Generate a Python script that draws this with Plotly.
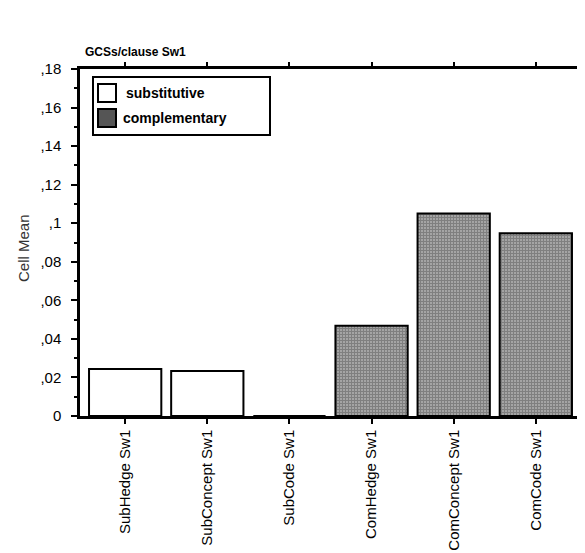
import plotly.graph_objects as go

categories = ["SubHedge Sw1", "SubConcept Sw1", "SubCode Sw1",
              "ComHedge Sw1", "ComConcept Sw1", "ComCode Sw1"]
sub_cats = categories[:3]
com_cats = categories[3:]
sub_values = [0.0244, 0.0233, 0.0]
com_values = [0.0468, 0.1051, 0.0948]
y_tickvals = [0, 0.02, 0.04, 0.06, 0.08, 0.10, 0.12, 0.14, 0.16, 0.18]
y_ticktext = ["0", ",02", ",04", ",06", ",08", ",1", ",12", ",14", ",16", ",18"]
legend_labels = ["substitutive", "complementary"]

FONT = "Liberation Sans, Arial, sans-serif"

# page body has an 8px margin; compensate so the plot sits where the reference has it
OFF = 8
PL, PR, PT, PB = 80, 581, 69, 416          # plot area in screen pixels
W, H = 585, 553
PW, PH = PR - PL, PB - PT


def px(x):  # screen x -> paper
    return (x - PL) / PW


def py(y):  # screen y -> paper
    return (PB - y) / PH


fig = go.Figure()
fig.add_trace(go.Bar(
    x=sub_cats, y=sub_values, name=legend_labels[0], width=0.88,
    marker=dict(color="white", line=dict(color="black", width=2)),
))
fig.add_trace(go.Bar(
    x=com_cats, y=com_values, name=legend_labels[1], width=0.88,
    marker=dict(color="white", line=dict(color="black", width=2),
                pattern=dict(shape="+", size=3, solidity=0.85,
                             fgcolor="black", bgcolor="white", fillmode="overlay")),
))
# invisible trace to carry the mirrored top/right axes
fig.add_trace(go.Scatter(x=categories, y=[0]*6, xaxis="x2", yaxis="y2",
                         mode="markers", marker=dict(opacity=0),
                         showlegend=False, hoverinfo="skip"))

# manual legend (box, swatches, labels)
shapes = [
    dict(type="rect", xref="paper", yref="paper", x0=px(93), x1=px(270),
         y0=py(135), y1=py(77), line=dict(color="black", width=2), fillcolor="white",
         layer="above"),
    dict(type="rect", xref="paper", yref="paper", x0=px(98), x1=px(116),
         y0=py(102), y1=py(84), line=dict(color="black", width=2), fillcolor="white",
         layer="above"),
    dict(type="rect", xref="paper", yref="paper", x0=px(98), x1=px(116),
         y0=py(127), y1=py(109), line=dict(color="black", width=2), fillcolor="#555555",
         layer="above"),
]
annotations = [
    dict(xref="paper", yref="paper", x=px(124), y=py(93), xanchor="left",
         yanchor="middle", showarrow=False, text="<b>%s</b>" % legend_labels[0],
         font=dict(size=14, family=FONT, color="black")),
    dict(xref="paper", yref="paper", x=px(121), y=py(118), xanchor="left",
         yanchor="middle", showarrow=False, text="<b>%s</b>" % legend_labels[1],
         font=dict(size=14, family=FONT, color="black")),
    dict(xref="paper", yref="paper", x=px(24), y=py(248), xanchor="center",
         yanchor="middle", showarrow=False, text="Cell Mean", textangle=-90,
         font=dict(size=15, family=FONT, color="#333333")),
]

fig.update_layout(
    width=W, height=H,
    margin=dict(l=PL - OFF, r=W - (PR - OFF), t=PT - OFF, b=H - (PB - OFF),
                autoexpand=False),
    paper_bgcolor="white", plot_bgcolor="white",
    barmode="overlay",
    font=dict(family=FONT, size=12, color="black"),
    title=dict(text="<b>GCSs/clause Sw1</b>", x=(85 - OFF) / W, xanchor="left",
               xref="container", y=1 - (52 - OFF) / H, yanchor="middle",
               font=dict(size=12), pad=dict(l=0, r=0, t=0, b=0)),
    showlegend=False,
    shapes=shapes,
    annotations=annotations,
    xaxis=dict(type="category", categoryorder="array", categoryarray=categories,
               range=[-0.55, 5.55], showline=True, linecolor="black", linewidth=2.5,
               ticks="outside", ticklen=5, tickwidth=1.5, tickcolor="black",
               tickangle=-90, tickfont=dict(size=15), showgrid=False, zeroline=False,
               automargin=False),
    xaxis2=dict(type="category", categoryorder="array", categoryarray=categories,
                range=[-0.55, 5.55], overlaying="x", side="top", showline=True,
                linecolor="black", linewidth=2.5, ticks="outside", ticklen=4,
                tickwidth=1.5, tickcolor="black", showticklabels=False,
                showgrid=False, zeroline=False, automargin=False),
    yaxis=dict(range=[0, 0.18], tickvals=y_tickvals, ticktext=y_ticktext,
               showline=True, linecolor="black", linewidth=2.5, ticks="outside",
               ticklen=6, tickwidth=1.5, tickcolor="black", showgrid=False,
               zeroline=False, tickfont=dict(size=15), automargin=False,
               ticklabelstandoff=7,
               minor=dict(dtick=0.01, ticks="outside", ticklen=3, tickwidth=1.5,
                          tickcolor="black", showgrid=False)),
    yaxis2=dict(range=[0, 0.18], overlaying="y", side="right", showline=True,
                linecolor="black", linewidth=2.5, ticks="outside", ticklen=6,
                tickwidth=1.5, tickcolor="black", dtick=0.01, tick0=0,
                showticklabels=False, showgrid=False, zeroline=False,
                automargin=False),
)

fig.write_html("out.html")
